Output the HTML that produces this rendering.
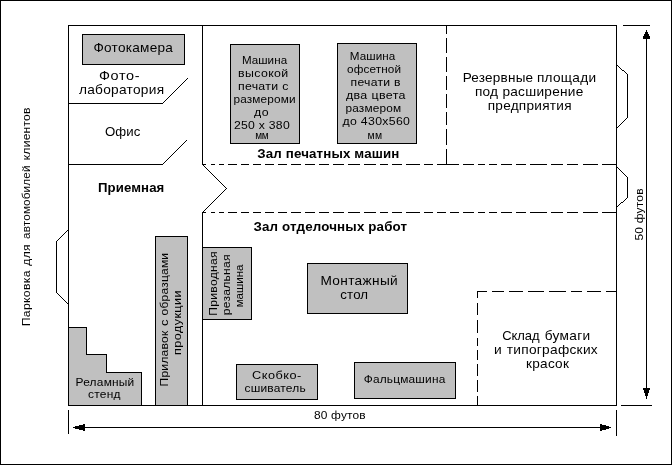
<!DOCTYPE html>
<html><head><meta charset="utf-8"><style>
html,body{margin:0;padding:0;background:#fff;}
svg{display:block;filter:grayscale(1);}
text{font-family:"Liberation Sans",sans-serif;fill:#000;}
</style></head><body>
<svg width="672" height="465" viewBox="0 0 672 465">
<rect x="0" y="0" width="672" height="465" fill="#fff"/>
<rect x="0" y="0" width="672" height="1" fill="#000"/>
<rect x="0" y="464" width="672" height="1" fill="#000"/>
<rect x="0" y="0" width="1" height="465" fill="#000"/>
<rect x="671" y="0" width="1" height="465" fill="#000"/>
<rect x="82" y="34" width="103" height="31" fill="#000"/>
<rect x="83" y="35" width="101" height="29" fill="#c0c0c0"/>
<rect x="230" y="44" width="70" height="100" fill="#000"/>
<rect x="231" y="45" width="68" height="98" fill="#c0c0c0"/>
<rect x="337" y="43" width="80" height="101" fill="#000"/>
<rect x="338" y="44" width="78" height="99" fill="#c0c0c0"/>
<rect x="155" y="236" width="33" height="170" fill="#000"/>
<rect x="156" y="237" width="31" height="168" fill="#c0c0c0"/>
<rect x="202" y="247" width="50" height="73" fill="#000"/>
<rect x="203" y="248" width="48" height="71" fill="#c0c0c0"/>
<rect x="307" y="263" width="101" height="51" fill="#000"/>
<rect x="308" y="264" width="99" height="49" fill="#c0c0c0"/>
<rect x="236" y="364" width="82" height="36" fill="#000"/>
<rect x="237" y="365" width="80" height="34" fill="#c0c0c0"/>
<rect x="354" y="362" width="102" height="37" fill="#000"/>
<rect x="355" y="363" width="100" height="35" fill="#c0c0c0"/>
<rect x="69" y="328" width="17" height="77" fill="#c0c0c0"/>
<rect x="86" y="355" width="20" height="50" fill="#c0c0c0"/>
<rect x="106" y="373" width="35" height="32" fill="#c0c0c0"/>
<rect x="68" y="327" width="19" height="1" fill="#000"/>
<rect x="86" y="327" width="1" height="28" fill="#000"/>
<rect x="86" y="354" width="21" height="1" fill="#000"/>
<rect x="106" y="354" width="1" height="19" fill="#000"/>
<rect x="106" y="372" width="36" height="1" fill="#000"/>
<rect x="141" y="372" width="1" height="34" fill="#000"/>
<rect x="68" y="25" width="549" height="1" fill="#000"/>
<rect x="68" y="25" width="1" height="381" fill="#000"/>
<rect x="616" y="25" width="1" height="381" fill="#000"/>
<rect x="68" y="405" width="549" height="1" fill="#000"/>
<rect x="202" y="25" width="1" height="140" fill="#000"/>
<rect x="202" y="212" width="1" height="194" fill="#000"/>
<rect x="68" y="103" width="95" height="1" fill="#000"/>
<rect x="162" y="103" width="1" height="1" fill="#000"/>
<rect x="163" y="102" width="1" height="1" fill="#000"/>
<rect x="164" y="101" width="1" height="1" fill="#000"/>
<rect x="165" y="100" width="1" height="1" fill="#000"/>
<rect x="166" y="99" width="1" height="1" fill="#000"/>
<rect x="167" y="98" width="1" height="1" fill="#000"/>
<rect x="168" y="97" width="1" height="1" fill="#000"/>
<rect x="169" y="96" width="1" height="1" fill="#000"/>
<rect x="170" y="95" width="1" height="1" fill="#000"/>
<rect x="171" y="94" width="1" height="1" fill="#000"/>
<rect x="172" y="93" width="1" height="1" fill="#000"/>
<rect x="173" y="92" width="1" height="1" fill="#000"/>
<rect x="174" y="91" width="1" height="1" fill="#000"/>
<rect x="175" y="90" width="1" height="1" fill="#000"/>
<rect x="176" y="89" width="1" height="1" fill="#000"/>
<rect x="177" y="88" width="1" height="1" fill="#000"/>
<rect x="178" y="87" width="1" height="1" fill="#000"/>
<rect x="179" y="86" width="1" height="1" fill="#000"/>
<rect x="180" y="85" width="1" height="1" fill="#000"/>
<rect x="181" y="84" width="1" height="1" fill="#000"/>
<rect x="182" y="83" width="1" height="1" fill="#000"/>
<rect x="183" y="82" width="1" height="1" fill="#000"/>
<rect x="184" y="81" width="1" height="1" fill="#000"/>
<rect x="185" y="80" width="1" height="1" fill="#000"/>
<rect x="186" y="79" width="1" height="1" fill="#000"/>
<rect x="187" y="78" width="1" height="1" fill="#000"/>
<rect x="68" y="164" width="95" height="1" fill="#000"/>
<rect x="162" y="164" width="1" height="1" fill="#000"/>
<rect x="163" y="163" width="1" height="1" fill="#000"/>
<rect x="164" y="162" width="1" height="1" fill="#000"/>
<rect x="165" y="161" width="1" height="1" fill="#000"/>
<rect x="166" y="160" width="1" height="1" fill="#000"/>
<rect x="167" y="159" width="1" height="1" fill="#000"/>
<rect x="168" y="158" width="1" height="1" fill="#000"/>
<rect x="169" y="157" width="1" height="1" fill="#000"/>
<rect x="170" y="156" width="1" height="1" fill="#000"/>
<rect x="171" y="155" width="1" height="1" fill="#000"/>
<rect x="172" y="154" width="1" height="1" fill="#000"/>
<rect x="173" y="153" width="1" height="1" fill="#000"/>
<rect x="174" y="152" width="1" height="1" fill="#000"/>
<rect x="175" y="151" width="1" height="1" fill="#000"/>
<rect x="176" y="150" width="1" height="1" fill="#000"/>
<rect x="177" y="149" width="1" height="1" fill="#000"/>
<rect x="178" y="148" width="1" height="1" fill="#000"/>
<rect x="179" y="147" width="1" height="1" fill="#000"/>
<rect x="180" y="146" width="1" height="1" fill="#000"/>
<rect x="181" y="145" width="1" height="1" fill="#000"/>
<rect x="182" y="144" width="1" height="1" fill="#000"/>
<rect x="183" y="143" width="1" height="1" fill="#000"/>
<rect x="184" y="142" width="1" height="1" fill="#000"/>
<rect x="185" y="141" width="1" height="1" fill="#000"/>
<rect x="186" y="140" width="1" height="1" fill="#000"/>
<rect x="202" y="164" width="1" height="1" fill="#000"/>
<rect x="203" y="165" width="1" height="1" fill="#000"/>
<rect x="204" y="166" width="1" height="1" fill="#000"/>
<rect x="205" y="167" width="1" height="1" fill="#000"/>
<rect x="206" y="168" width="1" height="1" fill="#000"/>
<rect x="207" y="169" width="1" height="1" fill="#000"/>
<rect x="208" y="170" width="1" height="1" fill="#000"/>
<rect x="209" y="171" width="1" height="1" fill="#000"/>
<rect x="210" y="172" width="1" height="1" fill="#000"/>
<rect x="211" y="173" width="1" height="1" fill="#000"/>
<rect x="212" y="174" width="1" height="1" fill="#000"/>
<rect x="213" y="175" width="1" height="1" fill="#000"/>
<rect x="214" y="176" width="1" height="1" fill="#000"/>
<rect x="215" y="177" width="1" height="1" fill="#000"/>
<rect x="216" y="178" width="1" height="1" fill="#000"/>
<rect x="217" y="179" width="1" height="1" fill="#000"/>
<rect x="218" y="180" width="1" height="1" fill="#000"/>
<rect x="219" y="181" width="1" height="1" fill="#000"/>
<rect x="220" y="182" width="1" height="1" fill="#000"/>
<rect x="221" y="183" width="1" height="1" fill="#000"/>
<rect x="222" y="184" width="1" height="1" fill="#000"/>
<rect x="223" y="185" width="1" height="1" fill="#000"/>
<rect x="224" y="186" width="1" height="1" fill="#000"/>
<rect x="225" y="187" width="1" height="1" fill="#000"/>
<rect x="226" y="188" width="1" height="1" fill="#000"/>
<rect x="226" y="188" width="1" height="1" fill="#000"/>
<rect x="225" y="189" width="1" height="1" fill="#000"/>
<rect x="224" y="190" width="1" height="1" fill="#000"/>
<rect x="223" y="191" width="1" height="1" fill="#000"/>
<rect x="222" y="192" width="1" height="1" fill="#000"/>
<rect x="221" y="193" width="1" height="1" fill="#000"/>
<rect x="220" y="194" width="1" height="1" fill="#000"/>
<rect x="219" y="195" width="1" height="1" fill="#000"/>
<rect x="218" y="196" width="1" height="1" fill="#000"/>
<rect x="217" y="197" width="1" height="1" fill="#000"/>
<rect x="216" y="198" width="1" height="1" fill="#000"/>
<rect x="215" y="199" width="1" height="1" fill="#000"/>
<rect x="214" y="200" width="1" height="1" fill="#000"/>
<rect x="213" y="201" width="1" height="1" fill="#000"/>
<rect x="212" y="202" width="1" height="1" fill="#000"/>
<rect x="211" y="203" width="1" height="1" fill="#000"/>
<rect x="210" y="204" width="1" height="1" fill="#000"/>
<rect x="209" y="205" width="1" height="1" fill="#000"/>
<rect x="208" y="206" width="1" height="1" fill="#000"/>
<rect x="207" y="207" width="1" height="1" fill="#000"/>
<rect x="206" y="208" width="1" height="1" fill="#000"/>
<rect x="205" y="209" width="1" height="1" fill="#000"/>
<rect x="204" y="210" width="1" height="1" fill="#000"/>
<rect x="203" y="211" width="1" height="1" fill="#000"/>
<rect x="202" y="212" width="1" height="1" fill="#000"/>
<rect x="617" y="65" width="1" height="1" fill="#000"/>
<rect x="618" y="66" width="1" height="1" fill="#000"/>
<rect x="619" y="67" width="1" height="1" fill="#000"/>
<rect x="620" y="68" width="1" height="1" fill="#000"/>
<rect x="621" y="69" width="1" height="1" fill="#000"/>
<rect x="622" y="70" width="1" height="1" fill="#000"/>
<rect x="623" y="70" width="1" height="1" fill="#000"/>
<rect x="624" y="71" width="1" height="1" fill="#000"/>
<rect x="625" y="72" width="1" height="1" fill="#000"/>
<rect x="626" y="73" width="1" height="1" fill="#000"/>
<rect x="627" y="74" width="1" height="1" fill="#000"/>
<rect x="627" y="74" width="1" height="1" fill="#000"/>
<rect x="627" y="75" width="1" height="1" fill="#000"/>
<rect x="627" y="76" width="1" height="1" fill="#000"/>
<rect x="627" y="77" width="1" height="1" fill="#000"/>
<rect x="627" y="78" width="1" height="1" fill="#000"/>
<rect x="627" y="79" width="1" height="1" fill="#000"/>
<rect x="627" y="80" width="1" height="1" fill="#000"/>
<rect x="627" y="81" width="1" height="1" fill="#000"/>
<rect x="627" y="82" width="1" height="1" fill="#000"/>
<rect x="627" y="83" width="1" height="1" fill="#000"/>
<rect x="627" y="84" width="1" height="1" fill="#000"/>
<rect x="627" y="85" width="1" height="1" fill="#000"/>
<rect x="627" y="86" width="1" height="1" fill="#000"/>
<rect x="627" y="87" width="1" height="1" fill="#000"/>
<rect x="627" y="88" width="1" height="1" fill="#000"/>
<rect x="627" y="89" width="1" height="1" fill="#000"/>
<rect x="627" y="90" width="1" height="1" fill="#000"/>
<rect x="627" y="91" width="1" height="1" fill="#000"/>
<rect x="627" y="92" width="1" height="1" fill="#000"/>
<rect x="627" y="93" width="1" height="1" fill="#000"/>
<rect x="627" y="94" width="1" height="1" fill="#000"/>
<rect x="627" y="95" width="1" height="1" fill="#000"/>
<rect x="627" y="96" width="1" height="1" fill="#000"/>
<rect x="627" y="97" width="1" height="1" fill="#000"/>
<rect x="627" y="98" width="1" height="1" fill="#000"/>
<rect x="627" y="99" width="1" height="1" fill="#000"/>
<rect x="627" y="100" width="1" height="1" fill="#000"/>
<rect x="627" y="101" width="1" height="1" fill="#000"/>
<rect x="627" y="102" width="1" height="1" fill="#000"/>
<rect x="627" y="103" width="1" height="1" fill="#000"/>
<rect x="627" y="104" width="1" height="1" fill="#000"/>
<rect x="627" y="105" width="1" height="1" fill="#000"/>
<rect x="627" y="106" width="1" height="1" fill="#000"/>
<rect x="627" y="107" width="1" height="1" fill="#000"/>
<rect x="627" y="108" width="1" height="1" fill="#000"/>
<rect x="627" y="109" width="1" height="1" fill="#000"/>
<rect x="627" y="110" width="1" height="1" fill="#000"/>
<rect x="627" y="111" width="1" height="1" fill="#000"/>
<rect x="627" y="112" width="1" height="1" fill="#000"/>
<rect x="627" y="113" width="1" height="1" fill="#000"/>
<rect x="627" y="114" width="1" height="1" fill="#000"/>
<rect x="627" y="115" width="1" height="1" fill="#000"/>
<rect x="627" y="116" width="1" height="1" fill="#000"/>
<rect x="627" y="117" width="1" height="1" fill="#000"/>
<rect x="627" y="117" width="1" height="1" fill="#000"/>
<rect x="626" y="118" width="1" height="1" fill="#000"/>
<rect x="625" y="119" width="1" height="1" fill="#000"/>
<rect x="624" y="120" width="1" height="1" fill="#000"/>
<rect x="623" y="121" width="1" height="1" fill="#000"/>
<rect x="622" y="122" width="1" height="1" fill="#000"/>
<rect x="621" y="123" width="1" height="1" fill="#000"/>
<rect x="620" y="124" width="1" height="1" fill="#000"/>
<rect x="619" y="125" width="1" height="1" fill="#000"/>
<rect x="618" y="126" width="1" height="1" fill="#000"/>
<rect x="617" y="127" width="1" height="1" fill="#000"/>
<rect x="617" y="167" width="1" height="1" fill="#000"/>
<rect x="618" y="168" width="1" height="1" fill="#000"/>
<rect x="619" y="169" width="1" height="1" fill="#000"/>
<rect x="620" y="170" width="1" height="1" fill="#000"/>
<rect x="621" y="171" width="1" height="1" fill="#000"/>
<rect x="622" y="172" width="1" height="1" fill="#000"/>
<rect x="623" y="173" width="1" height="1" fill="#000"/>
<rect x="624" y="174" width="1" height="1" fill="#000"/>
<rect x="625" y="175" width="1" height="1" fill="#000"/>
<rect x="626" y="176" width="1" height="1" fill="#000"/>
<rect x="627" y="177" width="1" height="1" fill="#000"/>
<rect x="627" y="177" width="1" height="1" fill="#000"/>
<rect x="627" y="178" width="1" height="1" fill="#000"/>
<rect x="627" y="179" width="1" height="1" fill="#000"/>
<rect x="627" y="180" width="1" height="1" fill="#000"/>
<rect x="627" y="181" width="1" height="1" fill="#000"/>
<rect x="627" y="182" width="1" height="1" fill="#000"/>
<rect x="627" y="183" width="1" height="1" fill="#000"/>
<rect x="627" y="184" width="1" height="1" fill="#000"/>
<rect x="627" y="185" width="1" height="1" fill="#000"/>
<rect x="627" y="186" width="1" height="1" fill="#000"/>
<rect x="627" y="187" width="1" height="1" fill="#000"/>
<rect x="627" y="188" width="1" height="1" fill="#000"/>
<rect x="627" y="189" width="1" height="1" fill="#000"/>
<rect x="627" y="190" width="1" height="1" fill="#000"/>
<rect x="627" y="191" width="1" height="1" fill="#000"/>
<rect x="627" y="192" width="1" height="1" fill="#000"/>
<rect x="627" y="193" width="1" height="1" fill="#000"/>
<rect x="627" y="194" width="1" height="1" fill="#000"/>
<rect x="627" y="195" width="1" height="1" fill="#000"/>
<rect x="627" y="196" width="1" height="1" fill="#000"/>
<rect x="627" y="197" width="1" height="1" fill="#000"/>
<rect x="627" y="197" width="1" height="1" fill="#000"/>
<rect x="626" y="198" width="1" height="1" fill="#000"/>
<rect x="625" y="199" width="1" height="1" fill="#000"/>
<rect x="624" y="200" width="1" height="1" fill="#000"/>
<rect x="623" y="201" width="1" height="1" fill="#000"/>
<rect x="622" y="202" width="1" height="1" fill="#000"/>
<rect x="621" y="202" width="1" height="1" fill="#000"/>
<rect x="620" y="203" width="1" height="1" fill="#000"/>
<rect x="619" y="204" width="1" height="1" fill="#000"/>
<rect x="618" y="205" width="1" height="1" fill="#000"/>
<rect x="617" y="206" width="1" height="1" fill="#000"/>
<rect x="67" y="230" width="1" height="1" fill="#000"/>
<rect x="66" y="231" width="1" height="1" fill="#000"/>
<rect x="65" y="232" width="1" height="1" fill="#000"/>
<rect x="64" y="233" width="1" height="1" fill="#000"/>
<rect x="63" y="234" width="1" height="1" fill="#000"/>
<rect x="62" y="235" width="1" height="1" fill="#000"/>
<rect x="61" y="236" width="1" height="1" fill="#000"/>
<rect x="60" y="237" width="1" height="1" fill="#000"/>
<rect x="59" y="238" width="1" height="1" fill="#000"/>
<rect x="58" y="239" width="1" height="1" fill="#000"/>
<rect x="57" y="240" width="1" height="1" fill="#000"/>
<rect x="56" y="241" width="1" height="1" fill="#000"/>
<rect x="56" y="241" width="1" height="1" fill="#000"/>
<rect x="56" y="242" width="1" height="1" fill="#000"/>
<rect x="56" y="243" width="1" height="1" fill="#000"/>
<rect x="56" y="244" width="1" height="1" fill="#000"/>
<rect x="56" y="245" width="1" height="1" fill="#000"/>
<rect x="56" y="246" width="1" height="1" fill="#000"/>
<rect x="56" y="247" width="1" height="1" fill="#000"/>
<rect x="56" y="248" width="1" height="1" fill="#000"/>
<rect x="56" y="249" width="1" height="1" fill="#000"/>
<rect x="56" y="250" width="1" height="1" fill="#000"/>
<rect x="56" y="251" width="1" height="1" fill="#000"/>
<rect x="56" y="252" width="1" height="1" fill="#000"/>
<rect x="56" y="253" width="1" height="1" fill="#000"/>
<rect x="56" y="254" width="1" height="1" fill="#000"/>
<rect x="56" y="255" width="1" height="1" fill="#000"/>
<rect x="56" y="256" width="1" height="1" fill="#000"/>
<rect x="56" y="257" width="1" height="1" fill="#000"/>
<rect x="56" y="258" width="1" height="1" fill="#000"/>
<rect x="56" y="259" width="1" height="1" fill="#000"/>
<rect x="56" y="260" width="1" height="1" fill="#000"/>
<rect x="56" y="261" width="1" height="1" fill="#000"/>
<rect x="56" y="262" width="1" height="1" fill="#000"/>
<rect x="56" y="263" width="1" height="1" fill="#000"/>
<rect x="56" y="264" width="1" height="1" fill="#000"/>
<rect x="56" y="265" width="1" height="1" fill="#000"/>
<rect x="56" y="266" width="1" height="1" fill="#000"/>
<rect x="56" y="267" width="1" height="1" fill="#000"/>
<rect x="56" y="268" width="1" height="1" fill="#000"/>
<rect x="56" y="269" width="1" height="1" fill="#000"/>
<rect x="56" y="270" width="1" height="1" fill="#000"/>
<rect x="56" y="271" width="1" height="1" fill="#000"/>
<rect x="56" y="272" width="1" height="1" fill="#000"/>
<rect x="56" y="273" width="1" height="1" fill="#000"/>
<rect x="56" y="274" width="1" height="1" fill="#000"/>
<rect x="56" y="275" width="1" height="1" fill="#000"/>
<rect x="56" y="276" width="1" height="1" fill="#000"/>
<rect x="56" y="277" width="1" height="1" fill="#000"/>
<rect x="56" y="278" width="1" height="1" fill="#000"/>
<rect x="56" y="279" width="1" height="1" fill="#000"/>
<rect x="56" y="280" width="1" height="1" fill="#000"/>
<rect x="56" y="281" width="1" height="1" fill="#000"/>
<rect x="56" y="282" width="1" height="1" fill="#000"/>
<rect x="56" y="283" width="1" height="1" fill="#000"/>
<rect x="56" y="284" width="1" height="1" fill="#000"/>
<rect x="56" y="285" width="1" height="1" fill="#000"/>
<rect x="56" y="286" width="1" height="1" fill="#000"/>
<rect x="56" y="287" width="1" height="1" fill="#000"/>
<rect x="56" y="288" width="1" height="1" fill="#000"/>
<rect x="56" y="289" width="1" height="1" fill="#000"/>
<rect x="56" y="290" width="1" height="1" fill="#000"/>
<rect x="56" y="291" width="1" height="1" fill="#000"/>
<rect x="56" y="292" width="1" height="1" fill="#000"/>
<rect x="56" y="292" width="1" height="1" fill="#000"/>
<rect x="57" y="293" width="1" height="1" fill="#000"/>
<rect x="58" y="294" width="1" height="1" fill="#000"/>
<rect x="59" y="295" width="1" height="1" fill="#000"/>
<rect x="60" y="296" width="1" height="1" fill="#000"/>
<rect x="61" y="297" width="1" height="1" fill="#000"/>
<rect x="62" y="298" width="1" height="1" fill="#000"/>
<rect x="63" y="299" width="1" height="1" fill="#000"/>
<rect x="64" y="300" width="1" height="1" fill="#000"/>
<rect x="65" y="301" width="1" height="1" fill="#000"/>
<rect x="66" y="302" width="1" height="1" fill="#000"/>
<rect x="67" y="303" width="1" height="1" fill="#000"/>
<rect x="202" y="164" width="4" height="1" fill="#000"/>
<rect x="211" y="164" width="4" height="1" fill="#000"/>
<rect x="219" y="164" width="5" height="1" fill="#000"/>
<rect x="228" y="164" width="9" height="1" fill="#000"/>
<rect x="241" y="164" width="8" height="1" fill="#000"/>
<rect x="253" y="164" width="8" height="1" fill="#000"/>
<rect x="265" y="164" width="9" height="1" fill="#000"/>
<rect x="278" y="164" width="9" height="1" fill="#000"/>
<rect x="291" y="164" width="10" height="1" fill="#000"/>
<rect x="305" y="164" width="10" height="1" fill="#000"/>
<rect x="319" y="164" width="10" height="1" fill="#000"/>
<rect x="333" y="164" width="11" height="1" fill="#000"/>
<rect x="348" y="164" width="12" height="1" fill="#000"/>
<rect x="364" y="164" width="12" height="1" fill="#000"/>
<rect x="380" y="164" width="8" height="1" fill="#000"/>
<rect x="392" y="164" width="10" height="1" fill="#000"/>
<rect x="406" y="164" width="14" height="1" fill="#000"/>
<rect x="424" y="164" width="9" height="1" fill="#000"/>
<rect x="437" y="164" width="22" height="1" fill="#000"/>
<rect x="463" y="164" width="11" height="1" fill="#000"/>
<rect x="478" y="164" width="7" height="1" fill="#000"/>
<rect x="489" y="164" width="8" height="1" fill="#000"/>
<rect x="501" y="164" width="11" height="1" fill="#000"/>
<rect x="516" y="164" width="10" height="1" fill="#000"/>
<rect x="530" y="164" width="17" height="1" fill="#000"/>
<rect x="551" y="164" width="12" height="1" fill="#000"/>
<rect x="567" y="164" width="11" height="1" fill="#000"/>
<rect x="583" y="164" width="15" height="1" fill="#000"/>
<rect x="602" y="164" width="15" height="1" fill="#000"/>
<rect x="202" y="212" width="4" height="1" fill="#000"/>
<rect x="211" y="212" width="4" height="1" fill="#000"/>
<rect x="219" y="212" width="5" height="1" fill="#000"/>
<rect x="228" y="212" width="9" height="1" fill="#000"/>
<rect x="241" y="212" width="8" height="1" fill="#000"/>
<rect x="253" y="212" width="8" height="1" fill="#000"/>
<rect x="265" y="212" width="9" height="1" fill="#000"/>
<rect x="278" y="212" width="9" height="1" fill="#000"/>
<rect x="291" y="212" width="10" height="1" fill="#000"/>
<rect x="305" y="212" width="10" height="1" fill="#000"/>
<rect x="319" y="212" width="10" height="1" fill="#000"/>
<rect x="333" y="212" width="11" height="1" fill="#000"/>
<rect x="348" y="212" width="12" height="1" fill="#000"/>
<rect x="364" y="212" width="12" height="1" fill="#000"/>
<rect x="380" y="212" width="8" height="1" fill="#000"/>
<rect x="392" y="212" width="10" height="1" fill="#000"/>
<rect x="406" y="212" width="14" height="1" fill="#000"/>
<rect x="424" y="212" width="9" height="1" fill="#000"/>
<rect x="437" y="212" width="9" height="1" fill="#000"/>
<rect x="450" y="212" width="9" height="1" fill="#000"/>
<rect x="463" y="212" width="11" height="1" fill="#000"/>
<rect x="478" y="212" width="7" height="1" fill="#000"/>
<rect x="489" y="212" width="8" height="1" fill="#000"/>
<rect x="501" y="212" width="11" height="1" fill="#000"/>
<rect x="516" y="212" width="10" height="1" fill="#000"/>
<rect x="530" y="212" width="17" height="1" fill="#000"/>
<rect x="551" y="212" width="12" height="1" fill="#000"/>
<rect x="567" y="212" width="11" height="1" fill="#000"/>
<rect x="583" y="212" width="15" height="1" fill="#000"/>
<rect x="602" y="212" width="15" height="1" fill="#000"/>
<rect x="446" y="25" width="1" height="9" fill="#000"/>
<rect x="446" y="38" width="1" height="15" fill="#000"/>
<rect x="446" y="57" width="1" height="15" fill="#000"/>
<rect x="446" y="76" width="1" height="14" fill="#000"/>
<rect x="446" y="94" width="1" height="14" fill="#000"/>
<rect x="446" y="112" width="1" height="13" fill="#000"/>
<rect x="446" y="129" width="1" height="16" fill="#000"/>
<rect x="446" y="149" width="1" height="16" fill="#000"/>
<rect x="477" y="291" width="10" height="1" fill="#000"/>
<rect x="492" y="291" width="12" height="1" fill="#000"/>
<rect x="509" y="291" width="14" height="1" fill="#000"/>
<rect x="528" y="291" width="16" height="1" fill="#000"/>
<rect x="549" y="291" width="17" height="1" fill="#000"/>
<rect x="571" y="291" width="11" height="1" fill="#000"/>
<rect x="587" y="291" width="14" height="1" fill="#000"/>
<rect x="606" y="291" width="11" height="1" fill="#000"/>
<rect x="477" y="291" width="1" height="7" fill="#000"/>
<rect x="477" y="303" width="1" height="12" fill="#000"/>
<rect x="477" y="320" width="1" height="13" fill="#000"/>
<rect x="477" y="338" width="1" height="8" fill="#000"/>
<rect x="477" y="350" width="1" height="10" fill="#000"/>
<rect x="477" y="364" width="1" height="12" fill="#000"/>
<rect x="477" y="380" width="1" height="12" fill="#000"/>
<rect x="477" y="396" width="1" height="10" fill="#000"/>
<rect x="73" y="427" width="538" height="1" fill="#000"/>
<rect x="73" y="427" width="2" height="1" fill="#000"/>
<rect x="75" y="426" width="4" height="3" fill="#000"/>
<rect x="79" y="425" width="4" height="5" fill="#000"/>
<rect x="83" y="424" width="2" height="7" fill="#000"/>
<rect x="609" y="427" width="2" height="1" fill="#000"/>
<rect x="606" y="426" width="3" height="3" fill="#000"/>
<rect x="602" y="425" width="4" height="5" fill="#000"/>
<rect x="600" y="424" width="2" height="7" fill="#000"/>
<rect x="68" y="410" width="1" height="24" fill="#000"/>
<rect x="616" y="410" width="1" height="26" fill="#000"/>
<rect x="646" y="30" width="1" height="369" fill="#000"/>
<rect x="646" y="30" width="1" height="2" fill="#000"/>
<rect x="645" y="32" width="3" height="2" fill="#000"/>
<rect x="644" y="34" width="5" height="2" fill="#000"/>
<rect x="643" y="36" width="7" height="3" fill="#000"/>
<rect x="643" y="388" width="7" height="2" fill="#000"/>
<rect x="644" y="390" width="5" height="3" fill="#000"/>
<rect x="645" y="393" width="3" height="3" fill="#000"/>
<rect x="646" y="396" width="1" height="3" fill="#000"/>
<rect x="623" y="25" width="27" height="1" fill="#000"/>
<rect x="621" y="405" width="31" height="1" fill="#000"/>
<text transform="translate(133.20 52) scale(1.0464 1)" x="0" y="0" font-size="13.0" font-weight="normal" text-anchor="middle" textLength="75.88" lengthAdjust="spacing">Фотокамера</text>
<text transform="translate(119.20 80) scale(1.1122 1)" x="0" y="0" font-size="13.0" font-weight="normal" text-anchor="middle" textLength="36.50" lengthAdjust="spacing">Фото-</text>
<text transform="translate(121.50 94) scale(1.0533 1)" x="0" y="0" font-size="13.0" font-weight="normal" text-anchor="middle" textLength="80.89" lengthAdjust="spacing">лаборатория</text>
<text transform="translate(122.70 136) scale(1.0177 1)" x="0" y="0" font-size="13.0" font-weight="normal" text-anchor="middle" textLength="34.98" lengthAdjust="spacing">Офис</text>
<text transform="translate(131.10 192) scale(1.0165 1)" x="0" y="0" font-size="13" font-weight="bold" text-anchor="middle" textLength="65.32" lengthAdjust="spacing">Приемная</text>
<text transform="translate(264.50 64) scale(1.0092 1)" x="0" y="0" font-size="11.5" font-weight="normal" text-anchor="middle" textLength="44.79" lengthAdjust="spacing">Машина</text>
<text transform="translate(263.10 77) scale(1.0774 1)" x="0" y="0" font-size="11.5" font-weight="normal" text-anchor="middle" textLength="46.78" lengthAdjust="spacing">высокой</text>
<text transform="translate(263.10 90) scale(1.0718 1)" x="0" y="0" font-size="11.5" font-weight="normal" text-anchor="middle" textLength="47.03" lengthAdjust="spacing">печати с</text>
<text transform="translate(264.50 103) scale(1.0267 1)" x="0" y="0" font-size="11.5" font-weight="normal" text-anchor="middle" textLength="60.39" lengthAdjust="spacing">размероми</text>
<text transform="translate(261.30 116) scale(1.0774 1)" x="0" y="0" font-size="11.5" font-weight="normal" text-anchor="middle" textLength="13.74" lengthAdjust="spacing">до</text>
<text transform="translate(261.80 129) scale(1.0628 1)" x="0" y="0" font-size="11.5" font-weight="normal" text-anchor="middle" textLength="52.50" lengthAdjust="spacing">250 x 380</text>
<text transform="translate(262.00 139) scale(1.0000 1)" x="0" y="0" font-size="10" font-weight="normal" text-anchor="middle" textLength="13.40" lengthAdjust="spacing">мм</text>
<text transform="translate(372.50 60) scale(1.0146 1)" x="0" y="0" font-size="11.5" font-weight="normal" text-anchor="middle" textLength="44.94" lengthAdjust="spacing">Машина</text>
<text transform="translate(374.10 73) scale(1.0223 1)" x="0" y="0" font-size="11.5" font-weight="normal" text-anchor="middle" textLength="52.82" lengthAdjust="spacing">офсетной</text>
<text transform="translate(375.50 86) scale(1.0612 1)" x="0" y="0" font-size="11.5" font-weight="normal" text-anchor="middle" textLength="47.12" lengthAdjust="spacing">печати в</text>
<text transform="translate(375.70 99) scale(1.0824 1)" x="0" y="0" font-size="11.5" font-weight="normal" text-anchor="middle" textLength="55.06" lengthAdjust="spacing">два цвета</text>
<text transform="translate(373.30 112) scale(1.0302 1)" x="0" y="0" font-size="11.5" font-weight="normal" text-anchor="middle" textLength="53.97" lengthAdjust="spacing">размером</text>
<text transform="translate(376.20 125) scale(1.0691 1)" x="0" y="0" font-size="11.5" font-weight="normal" text-anchor="middle" textLength="63.04" lengthAdjust="spacing">до 430x560</text>
<text transform="translate(374.80 139) scale(1.0371 1)" x="0" y="0" font-size="10" font-weight="normal" text-anchor="middle" textLength="14.08" lengthAdjust="spacing">мм</text>
<text transform="translate(328.30 158) scale(1.0251 1)" x="0" y="0" font-size="13" font-weight="bold" text-anchor="middle" textLength="138.52" lengthAdjust="spacing">Зал печатных машин</text>
<text transform="translate(330.30 231) scale(1.0279 1)" x="0" y="0" font-size="13" font-weight="bold" text-anchor="middle" textLength="149.43" lengthAdjust="spacing">Зал отделочных работ</text>
<text transform="translate(497.90 82) scale(1.0402 1)" x="0" y="0" font-size="13.0" font-weight="normal" text-anchor="middle" textLength="67.68" lengthAdjust="spacing">Резервные</text>
<text transform="translate(566.50 82) scale(1.0484 1)" x="0" y="0" font-size="13.0" font-weight="normal" text-anchor="middle" textLength="56.47" lengthAdjust="spacing">площади</text>
<text transform="translate(529.10 96) scale(1.0506 1)" x="0" y="0" font-size="13.0" font-weight="normal" text-anchor="middle" textLength="103.18" lengthAdjust="spacing">под расширение</text>
<text transform="translate(529.60 110) scale(1.0476 1)" x="0" y="0" font-size="13.0" font-weight="normal" text-anchor="middle" textLength="79.99" lengthAdjust="spacing">предприятия</text>
<text transform="translate(359.10 285) scale(1.0533 1)" x="0" y="0" font-size="13.0" font-weight="normal" text-anchor="middle" textLength="73.30" lengthAdjust="spacing">Монтажный</text>
<text transform="translate(354.20 299) scale(1.0214 1)" x="0" y="0" font-size="13.0" font-weight="normal" text-anchor="middle" textLength="27.22" lengthAdjust="spacing">стол</text>
<text transform="translate(520.90 340) scale(1.0000 1)" x="0" y="0" font-size="13.0" font-weight="normal" text-anchor="middle" textLength="37.20" lengthAdjust="spacing">Склад</text>
<text transform="translate(567.40 340) scale(1.0534 1)" x="0" y="0" font-size="13.0" font-weight="normal" text-anchor="middle" textLength="43.10" lengthAdjust="spacing">бумаги</text>
<text transform="translate(497.90 354) scale(1.0606 1)" x="0" y="0" font-size="13.0" font-weight="normal" text-anchor="middle" textLength="7.54" lengthAdjust="spacing">и</text>
<text transform="translate(552.20 354) scale(1.0551 1)" x="0" y="0" font-size="13.0" font-weight="normal" text-anchor="middle" textLength="86.25" lengthAdjust="spacing">типографских</text>
<text transform="translate(547.50 368) scale(1.0465 1)" x="0" y="0" font-size="13.0" font-weight="normal" text-anchor="middle" textLength="40.90" lengthAdjust="spacing">красок</text>
<text transform="translate(104.90 386) scale(1.0387 1)" x="0" y="0" font-size="11.5" font-weight="normal" text-anchor="middle" textLength="56.61" lengthAdjust="spacing">Реламный</text>
<text transform="translate(104.30 398) scale(1.0403 1)" x="0" y="0" font-size="11.5" font-weight="normal" text-anchor="middle" textLength="31.14" lengthAdjust="spacing">стенд</text>
<text transform="translate(276.70 379) scale(1.1055 1)" x="0" y="0" font-size="11.5" font-weight="normal" text-anchor="middle" textLength="44.51" lengthAdjust="spacing">Скобко-</text>
<text transform="translate(275.10 392) scale(1.0398 1)" x="0" y="0" font-size="11.5" font-weight="normal" text-anchor="middle" textLength="58.86" lengthAdjust="spacing">сшиватель</text>
<text transform="translate(404.50 383) scale(1.0347 1)" x="0" y="0" font-size="11.5" font-weight="normal" text-anchor="middle" textLength="78.86" lengthAdjust="spacing">Фальцмашина</text>
<text transform="translate(339.80 419) scale(1.0379 1)" x="0" y="0" font-size="11.5" font-weight="normal" text-anchor="middle" textLength="49.91" lengthAdjust="spacing">80 футов</text>
<text transform="translate(168 358.60) rotate(-90) scale(1.0487 1)" x="0" y="0" font-size="11.5" font-weight="normal" text-anchor="middle" textLength="53.21" lengthAdjust="spacing">Прилавок</text>
<text transform="translate(168 322.80) rotate(-90) scale(1.1304 1)" x="0" y="0" font-size="11.5" font-weight="normal" text-anchor="middle" textLength="6.19" lengthAdjust="spacing">с</text>
<text transform="translate(168 284.20) rotate(-90) scale(1.0450 1)" x="0" y="0" font-size="11.5" font-weight="normal" text-anchor="middle" textLength="59.91" lengthAdjust="spacing">образцами</text>
<text transform="translate(181 322.70) rotate(-90) scale(1.0937 1)" x="0" y="0" font-size="11.5" font-weight="normal" text-anchor="middle" textLength="58.88" lengthAdjust="spacing">продукции</text>
<text transform="translate(217 283.60) rotate(-90) scale(1.0539 1)" x="0" y="0" font-size="11.5" font-weight="normal" text-anchor="middle" textLength="60.92" lengthAdjust="spacing">Приводная</text>
<text transform="translate(230 284.90) rotate(-90) scale(1.0527 1)" x="0" y="0" font-size="11.5" font-weight="normal" text-anchor="middle" textLength="57.76" lengthAdjust="spacing">резальная</text>
<text transform="translate(243 285.90) rotate(-90) scale(1.0014 1)" x="0" y="0" font-size="11.5" font-weight="normal" text-anchor="middle" textLength="42.74" lengthAdjust="spacing">машина</text>
<text transform="translate(643 214.50) rotate(-90) scale(1.0404 1)" x="0" y="0" font-size="11.5" font-weight="normal" text-anchor="middle" textLength="49.98" lengthAdjust="spacing">50 футов</text>
<text transform="translate(30 298.40) rotate(-90) scale(1.0642 1)" x="0" y="0" font-size="11.5" font-weight="normal" text-anchor="middle" textLength="52.43" lengthAdjust="spacing">Парковка</text>
<text transform="translate(30 255.10) rotate(-90) scale(1.0471 1)" x="0" y="0" font-size="11.5" font-weight="normal" text-anchor="middle" textLength="20.25" lengthAdjust="spacing">для</text>
<text transform="translate(30 202.20) rotate(-90) scale(1.0234 1)" x="0" y="0" font-size="11.5" font-weight="normal" text-anchor="middle" textLength="71.72" lengthAdjust="spacing">автомобилей</text>
<text transform="translate(30 133.90) rotate(-90) scale(1.0507 1)" x="0" y="0" font-size="11.5" font-weight="normal" text-anchor="middle" textLength="50.25" lengthAdjust="spacing">клиентов</text>
</svg>
</body></html>
